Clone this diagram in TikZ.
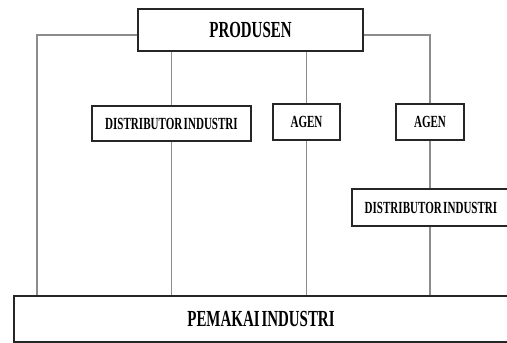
\documentclass[tikz,border=0pt]{standalone}
\usepackage{fontspec}
\setmainfont[FakeStretch=0.65,WordSpace=0.5]{Liberation Serif}
\begin{document}
\begin{tikzpicture}[
	x=1pt, y=-1pt,
	box/.style={ draw=black!85, line width=1.2pt, fill=white, inner sep=0pt, font=\fontsize{17}{19}\selectfont\bfseries },
	bigbox/.style={ box, font=\fontsize{23}{25}\selectfont\bfseries },
	wire/.style={ draw=black!45, line width=1.8pt }
]
\useasboundingbox (0,0) rectangle (507,343);

\node at (250.5,30) (prod) [bigbox,minimum width=225pt,minimum height=42pt] {PRODUSEN};
\node at (171.5,123.5) (dista) [box,minimum width=159pt,minimum height=35pt] {DISTRIBUTOR INDUSTRI};
\node at (306.5,122) (agena) [box,minimum width=67pt,minimum height=36pt] {AGEN};
\node at (430,122) (agenb) [box,minimum width=68pt,minimum height=36pt] {AGEN};
\node at (431,207.5) (distb) [box,minimum width=158pt,minimum height=37pt] {DISTRIBUTOR INDUSTRI};
\node at (261,319) (pem) [bigbox,minimum width=494pt,minimum height=46pt] {PEMAKAI INDUSTRI};
\coordinate (l) at (37,35);
\coordinate (r) at (430,35);

\begin{scope}[on background layer/.try]
\draw[wire] (prod.west |- l) -- (l) -- (l |- pem.north);
\draw[wire] (prod.east |- r) -- (r) -- (agenb.north);
\draw[wire] (prod.south -| dista.north) -- (dista.north);
\draw[wire] (dista.south) -- (dista.south |- pem.north);
\draw[wire] (prod.south -| agena.north) -- (agena.north);
\draw[wire] (agena.south) -- (agena.south |- pem.north);
\draw[wire] (agenb.south) -- (agenb.south |- distb.north);
\draw[wire] (distb.south -| agenb.south) -- (agenb.south |- pem.north);
\end{scope}

\end{tikzpicture}
\end{document}
